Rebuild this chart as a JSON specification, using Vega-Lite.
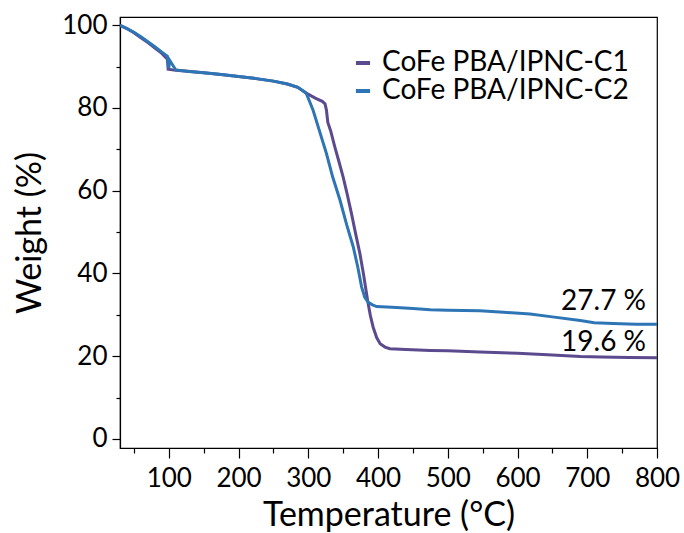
{
  "$schema": "https://vega.github.io/schema/vega-lite/v6.json",
  "width": 537,
  "height": 431,
  "autosize": "none",
  "padding": {"left": 120, "top": 17, "right": 27, "bottom": 85},
  "background": "white",
  "config": {
    "font": "Lato",
    "view": {"stroke": "#000", "strokeWidth": 1.2},
    "axis": {"domainColor": "#000", "domainWidth": 1.2, "tickColor": "#000", "tickWidth": 1.2, "labelColor": "#000", "titleColor": "#000", "labelFont": "Lato", "titleFont": "Lato", "labelFontSize": 26, "titleFontSize": 34, "titleFontWeight": "normal", "grid": false, "labelOverlap": false}
  },
  "datasets": {
    "tga": [
      {"s": "CoFe PBA/IPNC-C1", "t": 30, "w": 100},
      {"s": "CoFe PBA/IPNC-C1", "t": 40, "w": 99.2},
      {"s": "CoFe PBA/IPNC-C1", "t": 50, "w": 98.2},
      {"s": "CoFe PBA/IPNC-C1", "t": 60, "w": 97.0},
      {"s": "CoFe PBA/IPNC-C1", "t": 70, "w": 95.8},
      {"s": "CoFe PBA/IPNC-C1", "t": 80, "w": 94.5},
      {"s": "CoFe PBA/IPNC-C1", "t": 90, "w": 93.2},
      {"s": "CoFe PBA/IPNC-C1", "t": 98, "w": 91.8},
      {"s": "CoFe PBA/IPNC-C1", "t": 99, "w": 89.4},
      {"s": "CoFe PBA/IPNC-C1", "t": 110, "w": 89.1},
      {"s": "CoFe PBA/IPNC-C1", "t": 130, "w": 88.8},
      {"s": "CoFe PBA/IPNC-C1", "t": 150, "w": 88.5},
      {"s": "CoFe PBA/IPNC-C1", "t": 175, "w": 88.1},
      {"s": "CoFe PBA/IPNC-C1", "t": 200, "w": 87.6},
      {"s": "CoFe PBA/IPNC-C1", "t": 225, "w": 87.1},
      {"s": "CoFe PBA/IPNC-C1", "t": 250, "w": 86.5},
      {"s": "CoFe PBA/IPNC-C1", "t": 270, "w": 85.8},
      {"s": "CoFe PBA/IPNC-C1", "t": 285, "w": 85.0},
      {"s": "CoFe PBA/IPNC-C1", "t": 297, "w": 83.6},
      {"s": "CoFe PBA/IPNC-C1", "t": 310, "w": 82.4},
      {"s": "CoFe PBA/IPNC-C1", "t": 320, "w": 81.6},
      {"s": "CoFe PBA/IPNC-C1", "t": 324, "w": 81.0},
      {"s": "CoFe PBA/IPNC-C1", "t": 326, "w": 79.5},
      {"s": "CoFe PBA/IPNC-C1", "t": 328, "w": 76.5},
      {"s": "CoFe PBA/IPNC-C1", "t": 332, "w": 74.5},
      {"s": "CoFe PBA/IPNC-C1", "t": 338, "w": 70.6},
      {"s": "CoFe PBA/IPNC-C1", "t": 344, "w": 67.0},
      {"s": "CoFe PBA/IPNC-C1", "t": 350, "w": 63.3},
      {"s": "CoFe PBA/IPNC-C1", "t": 356, "w": 59.0},
      {"s": "CoFe PBA/IPNC-C1", "t": 362, "w": 54.4},
      {"s": "CoFe PBA/IPNC-C1", "t": 368, "w": 49.5},
      {"s": "CoFe PBA/IPNC-C1", "t": 374, "w": 44.8},
      {"s": "CoFe PBA/IPNC-C1", "t": 379, "w": 40.0},
      {"s": "CoFe PBA/IPNC-C1", "t": 385, "w": 33.5},
      {"s": "CoFe PBA/IPNC-C1", "t": 389, "w": 29.8},
      {"s": "CoFe PBA/IPNC-C1", "t": 393, "w": 27.0},
      {"s": "CoFe PBA/IPNC-C1", "t": 398, "w": 24.5},
      {"s": "CoFe PBA/IPNC-C1", "t": 403, "w": 23.0},
      {"s": "CoFe PBA/IPNC-C1", "t": 410, "w": 22.2},
      {"s": "CoFe PBA/IPNC-C1", "t": 417, "w": 21.8},
      {"s": "CoFe PBA/IPNC-C1", "t": 440, "w": 21.6},
      {"s": "CoFe PBA/IPNC-C1", "t": 475, "w": 21.4},
      {"s": "CoFe PBA/IPNC-C1", "t": 500, "w": 21.3},
      {"s": "CoFe PBA/IPNC-C1", "t": 546, "w": 21.0},
      {"s": "CoFe PBA/IPNC-C1", "t": 600, "w": 20.7},
      {"s": "CoFe PBA/IPNC-C1", "t": 650, "w": 20.3},
      {"s": "CoFe PBA/IPNC-C1", "t": 690, "w": 19.9},
      {"s": "CoFe PBA/IPNC-C1", "t": 720, "w": 19.8},
      {"s": "CoFe PBA/IPNC-C1", "t": 760, "w": 19.7},
      {"s": "CoFe PBA/IPNC-C1", "t": 800, "w": 19.6},
      {"s": "CoFe PBA/IPNC-C2", "t": 30, "w": 100},
      {"s": "CoFe PBA/IPNC-C2", "t": 40, "w": 99.2},
      {"s": "CoFe PBA/IPNC-C2", "t": 50, "w": 98.3},
      {"s": "CoFe PBA/IPNC-C2", "t": 60, "w": 97.2},
      {"s": "CoFe PBA/IPNC-C2", "t": 70, "w": 96.0},
      {"s": "CoFe PBA/IPNC-C2", "t": 80, "w": 94.8},
      {"s": "CoFe PBA/IPNC-C2", "t": 90, "w": 93.5},
      {"s": "CoFe PBA/IPNC-C2", "t": 98, "w": 92.5},
      {"s": "CoFe PBA/IPNC-C2", "t": 101, "w": 91.6},
      {"s": "CoFe PBA/IPNC-C2", "t": 100, "w": 89.6},
      {"s": "CoFe PBA/IPNC-C2", "t": 110, "w": 89.2},
      {"s": "CoFe PBA/IPNC-C2", "t": 130, "w": 88.8},
      {"s": "CoFe PBA/IPNC-C2", "t": 150, "w": 88.5},
      {"s": "CoFe PBA/IPNC-C2", "t": 175, "w": 88.1},
      {"s": "CoFe PBA/IPNC-C2", "t": 200, "w": 87.6},
      {"s": "CoFe PBA/IPNC-C2", "t": 225, "w": 87.1},
      {"s": "CoFe PBA/IPNC-C2", "t": 250, "w": 86.5},
      {"s": "CoFe PBA/IPNC-C2", "t": 270, "w": 85.8},
      {"s": "CoFe PBA/IPNC-C2", "t": 285, "w": 85.0},
      {"s": "CoFe PBA/IPNC-C2", "t": 297, "w": 83.6},
      {"s": "CoFe PBA/IPNC-C2", "t": 302, "w": 81.5},
      {"s": "CoFe PBA/IPNC-C2", "t": 307, "w": 79.4},
      {"s": "CoFe PBA/IPNC-C2", "t": 315, "w": 75.0},
      {"s": "CoFe PBA/IPNC-C2", "t": 326, "w": 69.0},
      {"s": "CoFe PBA/IPNC-C2", "t": 335, "w": 63.3},
      {"s": "CoFe PBA/IPNC-C2", "t": 345.5, "w": 57.7},
      {"s": "CoFe PBA/IPNC-C2", "t": 355, "w": 51.8},
      {"s": "CoFe PBA/IPNC-C2", "t": 364.5, "w": 46.4},
      {"s": "CoFe PBA/IPNC-C2", "t": 371, "w": 41.5},
      {"s": "CoFe PBA/IPNC-C2", "t": 376.5, "w": 36.7},
      {"s": "CoFe PBA/IPNC-C2", "t": 381, "w": 34.2},
      {"s": "CoFe PBA/IPNC-C2", "t": 386, "w": 33.0},
      {"s": "CoFe PBA/IPNC-C2", "t": 392, "w": 32.4},
      {"s": "CoFe PBA/IPNC-C2", "t": 398, "w": 32.0},
      {"s": "CoFe PBA/IPNC-C2", "t": 420, "w": 31.8},
      {"s": "CoFe PBA/IPNC-C2", "t": 450, "w": 31.5},
      {"s": "CoFe PBA/IPNC-C2", "t": 475, "w": 31.2},
      {"s": "CoFe PBA/IPNC-C2", "t": 500, "w": 31.1},
      {"s": "CoFe PBA/IPNC-C2", "t": 546, "w": 31.0},
      {"s": "CoFe PBA/IPNC-C2", "t": 580, "w": 30.6},
      {"s": "CoFe PBA/IPNC-C2", "t": 618, "w": 30.2},
      {"s": "CoFe PBA/IPNC-C2", "t": 650, "w": 29.5},
      {"s": "CoFe PBA/IPNC-C2", "t": 690, "w": 28.6},
      {"s": "CoFe PBA/IPNC-C2", "t": 710, "w": 28.1},
      {"s": "CoFe PBA/IPNC-C2", "t": 737, "w": 27.9},
      {"s": "CoFe PBA/IPNC-C2", "t": 770, "w": 27.7},
      {"s": "CoFe PBA/IPNC-C2", "t": 800, "w": 27.7}
    ],
    "notes": [
      {"label": "27.7 %", "t": 800, "w": 33.0},
      {"label": "19.6 %", "t": 800, "w": 23.3}
    ]
  },
  "resolve": {"axis": {"x": "independent"}},
  "layer": [
    {
      "data": {"name": "tga"},
      "mark": {"type": "line", "strokeWidth": 3, "clip": true},
      "encoding": {
        "x": {
          "field": "t", "type": "quantitative",
          "scale": {"domain": [30, 800], "nice": false, "zero": false},
          "axis": {
            "orient": "bottom",
            "title": "Temperature (°C)",
            "values": [100, 200, 300, 400, 500, 600, 700, 800],
            "tickSize": 10,
            "labelPadding": 7,
            "titlePadding": 7,
            "labelFlush": false
          }
        },
        "y": {
          "field": "w", "type": "quantitative",
          "scale": {"domain": [-2.2, 102], "nice": false, "zero": false},
          "axis": {
            "title": "Weight (%)",
            "values": [0, 10, 20, 30, 40, 50, 60, 70, 80, 90, 100],
            "labelExpr": "datum.value % 20 == 0 ? datum.label : ''",
            "tickSize": {"condition": {"test": "datum.value % 20 == 0", "value": 8}, "value": 4},
            "labelPadding": 5,
            "titlePadding": 14,
            "labelFlush": false
          }
        },
        "color": {
          "field": "s", "type": "nominal",
          "sort": null,
          "scale": {"domain": ["CoFe PBA/IPNC-C1", "CoFe PBA/IPNC-C2"], "range": ["#5C4A8F", "#2E75B6"]},
          "legend": {
            "title": null,
            "orient": "none",
            "legendX": 229,
            "legendY": 32,
            "symbolType": "stroke",
            "symbolStrokeWidth": 4,
            "symbolSize": 200,
            "labelFont": "Lato",
            "labelFontSize": 28,
            "labelColor": "#000",
            "labelOffset": 5,
            "rowPadding": -6,
            "labelLimit": 400
          }
        }
      }
    },
    {
      "data": {"name": "notes"},
      "mark": {"type": "text", "align": "right", "baseline": "middle", "dx": -11, "fontSize": 28, "font": "Lato", "color": "#000"},
      "encoding": {
        "x": {
          "field": "t", "type": "quantitative",
          "axis": {
            "orient": "bottom",
            "title": null,
            "values": [50, 150, 250, 350, 450, 550, 650, 750],
            "labels": false,
            "domain": false,
            "tickSize": 5
          }
        },
        "y": {"field": "w", "type": "quantitative"},
        "text": {"field": "label"}
      }
    }
  ]
}
